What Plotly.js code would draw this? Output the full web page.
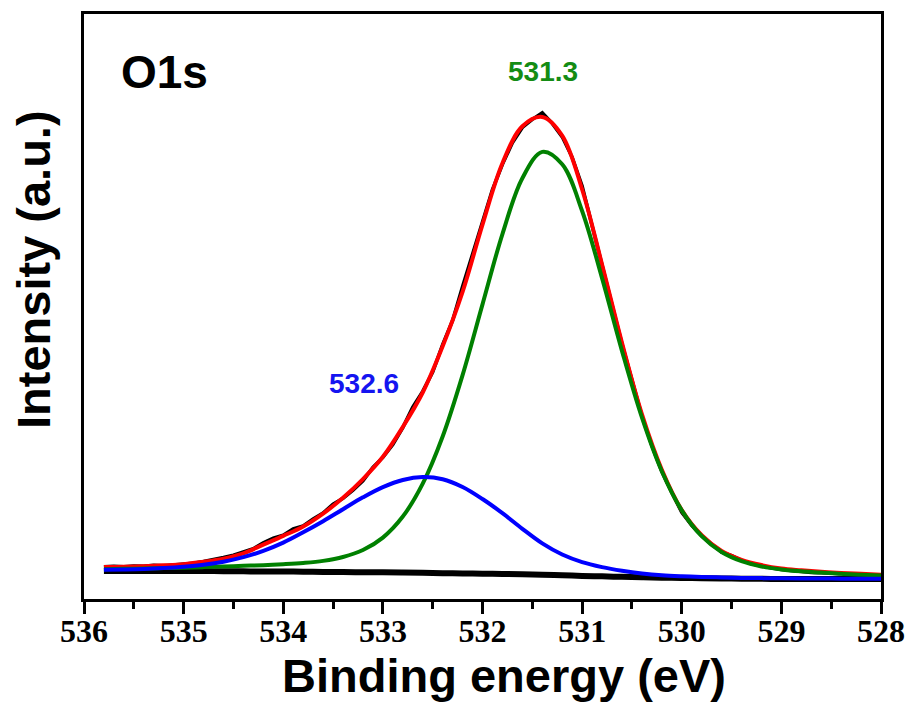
<!DOCTYPE html>
<html>
<head>
<meta charset="utf-8">
<script src="https://cdn.plot.ly/plotly-3.0.1.min.js"></script>
<style>html,body{margin:0;padding:0;background:#fff;}#chart{width:910px;height:705px;}</style>
</head>
<body>
<div id="chart"></div>
<script>
// Binding energy grid for the fitted curves (eV)
const fitEnergy = [535.8,535.6,535.4,535.2,535.0,534.8,534.6,534.4,534.2,534.0,533.8,533.6,533.4,533.2,533.0,532.8,532.6,532.4,532.2,532.0,531.8,531.6,531.4,531.2,531.0,530.8,530.6,530.4,530.2,530.0,529.8,529.6,529.4,529.2,529.0,528.8,528.6,528.4,528.2,528.0];
// Shirley background (a.u.)
const background = [4.8,4.8,4.8,4.8,4.8,4.78,4.75,4.73,4.71,4.7,4.67,4.63,4.6,4.58,4.56,4.52,4.47,4.42,4.38,4.33,4.28,4.22,4.15,4.05,3.95,3.87,3.79,3.71,3.64,3.6,3.56,3.52,3.48,3.45,3.42,3.4,3.4,3.4,3.4,3.4];
// Component at 531.3 eV (green)
const peak5313 = [5.1,5.15,5.2,5.28,5.36,5.45,5.55,5.67,5.78,5.95,6.17,6.52,7.18,8.37,10.5,14.09,19.71,27.78,38.27,50.36,62.38,71.93,76.43,74.31,66.33,54.85,42.42,31.03,21.83,15.16,10.74,8.03,6.46,5.56,5.05,4.73,4.52,4.3,4.15,4.0];
// Component at 532.6 eV (blue)
const peak5326 = [5.0,5.05,5.13,5.28,5.51,5.85,6.37,7.15,8.22,9.63,11.4,13.3,15.35,17.38,19.13,20.35,20.85,20.48,19.15,17.09,14.67,12.0,9.5,7.6,6.3,5.45,4.83,4.36,4.05,3.88,3.77,3.69,3.61,3.57,3.53,3.5,3.49,3.48,3.47,3.46];
// Envelope (red)
const envelope = [5.45,5.5,5.6,5.75,5.95,6.35,6.9,7.8,9.3,10.8,12.4,14.6,17.3,20.5,24.3,29.4,35.3,43.2,52.5,64.0,74.5,80.8,82.4,79.2,70.0,57.2,43.8,31.6,22.1,15.2,10.9,8.2,6.7,5.8,5.2,4.9,4.65,4.45,4.3,4.15];

// Measured spectrum (black)
const dataEnergy = [535.8,535.7,535.6,535.5,535.4,535.3,535.2,535.1,535.0,534.9,534.8,534.7,534.6,534.5,534.4,534.3,534.2,534.1,534.0,533.9,533.8,533.7,533.6,533.5,533.4,533.3,533.2,533.1,533.0,532.9,532.8,532.7,532.6,532.5,532.4,532.3,532.2,532.1,532.0,531.9,531.8,531.7,531.6,531.5,531.4,531.3,531.2,531.1,531.0,530.9,530.8,530.7,530.6,530.5,530.4,530.3,530.2,530.1,530.0,529.9,529.8,529.7,529.6,529.5,529.4,529.3,529.2,529.1,529.0,528.9,528.8,528.7,528.6,528.5,528.4,528.3,528.2,528.1,528.0];
const dataIntensity = [5.5,5.6,5.5,5.65,5.6,5.75,5.7,5.85,5.95,6.1,6.4,6.7,7.1,7.5,8.1,8.6,9.6,10.4,10.9,12.0,12.5,13.7,14.7,16.2,17.2,18.6,20.2,22.5,24.2,26.4,29.3,32.8,35.5,38.8,43.5,47.6,53.4,59.0,64.6,70.0,74.3,78.0,80.6,82.0,83.1,81.3,79.0,75.5,70.6,64.0,57.0,50.3,43.6,37.4,31.3,26.2,21.8,18.2,14.8,12.6,10.8,9.4,8.0,7.4,6.6,6.0,5.6,5.3,5.05,4.85,4.7,4.55,4.5,4.4,4.3,4.25,4.2,4.1,4.05];

const xTickVals = [536,535,534,533,532,531,530,529,528];
const xTickText = ['536','535','534','533','532','531','530','529','528'];

const traces = [
  {x: dataEnergy, y: dataIntensity, mode: 'lines', line: {color: '#000000', width: 3.5}},
  {x: fitEnergy, y: background, mode: 'lines', line: {color: '#000000', width: 6, shape: 'spline'}},
  {x: fitEnergy, y: envelope, mode: 'lines', line: {color: '#ff0000', width: 4, shape: 'spline'}},
  {x: fitEnergy, y: peak5313, mode: 'lines', line: {color: '#008000', width: 4, shape: 'spline'}},
  {x: fitEnergy, y: peak5326, mode: 'lines', line: {color: '#0000ff', width: 4, shape: 'spline'}}
];

const sansBold = {family: 'Liberation Sans, Arial, sans-serif', color: '#000', weight: 700};

const layout = {
  width: 910, height: 705,
  margin: {l: 84, r: 29, t: 14, b: 106},
  paper_bgcolor: '#ffffff', plot_bgcolor: '#ffffff',
  showlegend: false,
  xaxis: {
    range: [536, 528],
    tickvals: xTickVals, ticktext: xTickText,
    ticks: 'outside', ticklen: 12, tickwidth: 3, tickcolor: '#000',
    ticklabelstandoff: -10,
    minor: {dtick: 0.5, ticks: 'outside', ticklen: 7, tickwidth: 3, tickcolor: '#000'},
    showline: true, linewidth: 3, linecolor: '#000', mirror: true,
    showgrid: false, zeroline: false,
    tickfont: {family: 'Liberation Serif, Times New Roman, serif', size: 32, color: '#000', weight: 700}
  },
  yaxis: {
    range: [0, 100],
    showticklabels: false, ticks: '',
    showline: true, linewidth: 3, linecolor: '#000', mirror: true,
    showgrid: false, zeroline: false
  },
  annotations: [
    {xref: 'paper', yref: 'paper', x: 0.5276, y: -0.131, text: 'Binding energy (eV)', showarrow: false, xanchor: 'center', yanchor: 'middle',
     font: Object.assign({size: 47}, sansBold)},
    {xref: 'paper', yref: 'paper', x: -0.0627, y: 0.5624, text: 'Intensity (a.u.)', showarrow: false, xanchor: 'center', yanchor: 'middle', textangle: -90,
     font: Object.assign({size: 47}, sansBold)},
    {xref: 'paper', yref: 'paper', x: 0.1016, y: 0.9009, text: 'O1s', showarrow: false, xanchor: 'center', yanchor: 'middle',
     font: Object.assign({size: 46}, sansBold)},
    {xref: 'paper', yref: 'paper', x: 0.576, y: 0.901, text: '531.3', showarrow: false, xanchor: 'center', yanchor: 'middle',
     font: {family: 'Liberation Sans, Arial, sans-serif', size: 28, color: '#148c14', weight: 700}},
    {xref: 'paper', yref: 'paper', x: 0.351, y: 0.369, text: '532.6', showarrow: false, xanchor: 'center', yanchor: 'middle',
     font: {family: 'Liberation Sans, Arial, sans-serif', size: 28, color: '#1414f0', weight: 700}}
  ]
};

Plotly.newPlot('chart', traces, layout, {staticPlot: true, displayModeBar: false});
</script>
</body>
</html>
